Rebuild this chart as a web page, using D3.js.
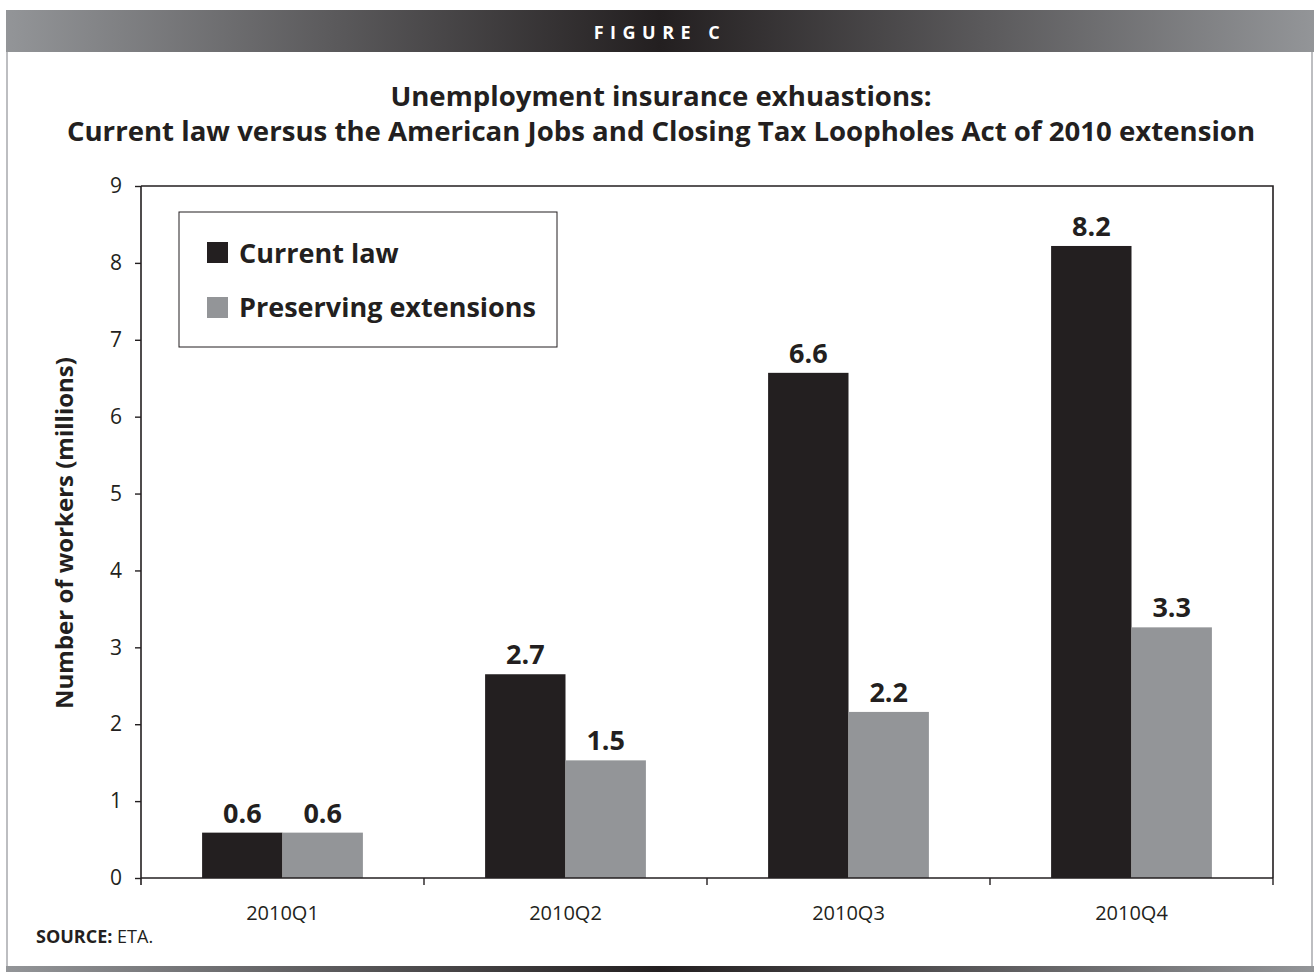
<!DOCTYPE html>
<html>
<head>
<meta charset="utf-8">
<script src="https://cdn.jsdelivr.net/npm/d3@7"></script>
<style>
  body { margin: 0; background: #fff; }
  svg text { font-family: "Open Sans", "Noto Sans", sans-serif; fill: #231f20; }
</style>
</head>
<body>
<svg id="chart" width="1314" height="972"></svg>
<script>
// data
var quarters = ["2010Q1", "2010Q2", "2010Q3", "2010Q4"];
var seriesNames = ["Current law", "Preserving extensions"];
var currentLaw = [0.59, 2.65, 6.57, 8.22];
var preserving = [0.59, 1.53, 2.16, 3.26];
var currentLabels = ["0.6", "2.7", "6.6", "8.2"];
var preservingLabels = ["0.6", "1.5", "2.2", "3.3"];
var yTicks = [0, 1, 2, 3, 4, 5, 6, 7, 8, 9];

var colors = { "Current law": "#231f20", "Preserving extensions": "#939598" };
var ink = "#231f20";

var svg = d3.select("#chart");

// header band with gradient
var defs = svg.append("defs");
var grad = defs.append("linearGradient").attr("id", "hdr").attr("x1", "0%").attr("x2", "100%");
grad.append("stop").attr("offset", "0%").attr("stop-color", "#939598");
grad.append("stop").attr("offset", "50%").attr("stop-color", "#231f20");
grad.append("stop").attr("offset", "100%").attr("stop-color", "#939598");

svg.append("rect").attr("x", 6).attr("y", 10).attr("width", 1308).attr("height", 42).attr("fill", "url(#hdr)");
svg.append("text").attr("x", 660).attr("y", 39).attr("text-anchor", "middle")
    .style("fill", "#fff").style("font-weight", "bold").style("font-size", "18px")
    .style("letter-spacing", "6.5px").text("FIGURE C");

// frame sides + bottom band
svg.append("line").attr("x1", 7).attr("x2", 7).attr("y1", 52).attr("y2", 966).attr("stroke", "#a7a9ac").attr("stroke-width", 1.5);
svg.append("line").attr("x1", 1312).attr("x2", 1312).attr("y1", 52).attr("y2", 966).attr("stroke", "#a7a9ac").attr("stroke-width", 1.5);
svg.append("rect").attr("x", 6).attr("y", 966).attr("width", 1308).attr("height", 6).attr("fill", "url(#hdr)");

// title
var title = svg.append("text").attr("text-anchor", "middle").style("font-weight", "bold").style("font-size", "27.6px");
title.append("tspan").attr("x", 661).attr("y", 106).text("Unemployment insurance exhuastions:");
title.append("tspan").attr("x", 661).attr("y", 141).text("Current law versus the American Jobs and Closing Tax Loopholes Act of 2010 extension");

// scales
var plotL = 141, plotR = 1273, plotT = 186, plotB = 878;
var x = d3.scaleBand().domain(quarters).range([plotL, plotR]).padding(0);
var xs = d3.scaleBand().domain(seriesNames).range([0, x.bandwidth()]).paddingInner(0).paddingOuter(0.76);
var y = d3.scaleLinear().domain([0, 9]).range([plotB, plotT]);

// bars
var rows = quarters.map(function (q, i) {
    return [
        { q: q, s: seriesNames[0], v: currentLaw[i], label: currentLabels[i] },
        { q: q, s: seriesNames[1], v: preserving[i], label: preservingLabels[i] }
    ];
});
var groups = svg.append("g").selectAll("g").data(rows).enter().append("g")
    .attr("transform", function (d) { return "translate(" + x(d[0].q) + ",0)"; });
groups.selectAll("rect").data(function (d) { return d; }).enter().append("rect")
    .attr("x", function (d) { return xs(d.s); })
    .attr("y", function (d) { return y(d.v); })
    .attr("width", xs.bandwidth())
    .attr("height", function (d) { return y(0) - y(d.v); })
    .attr("fill", function (d) { return colors[d.s]; });
groups.selectAll("text").data(function (d) { return d; }).enter().append("text")
    .attr("x", function (d) { return xs(d.s) + xs.bandwidth() / 2; })
    .attr("y", function (d) { return y(d.v) - 10; })
    .attr("text-anchor", "middle")
    .style("font-weight", "bold").style("font-size", "27px")
    .text(function (d) { return d.label; });

// plot frame top + right
svg.append("path").attr("d", "M" + plotL + "," + plotT + "H" + plotR + "V" + plotB)
    .attr("fill", "none").attr("stroke", ink).attr("stroke-width", 1.6);

// y axis
var yAxis = svg.append("g").attr("transform", "translate(" + plotL + ",0)")
    .call(d3.axisLeft(y).tickValues(yTicks).tickSize(6).tickPadding(13).tickFormat(d3.format("d")));
yAxis.select(".domain").attr("stroke", ink).attr("stroke-width", 1.6).attr("d", "M0," + plotT + "V" + (plotB + 7));
yAxis.selectAll(".tick line").attr("stroke", ink).attr("stroke-width", 1.4);
yAxis.selectAll("text").style("font-size", "21px").style("font-family", "\"Open Sans\", sans-serif").attr("fill", ink);

// x axis: ticks at category boundaries
svg.append("line").attr("x1", plotL).attr("x2", plotR).attr("y1", plotB).attr("y2", plotB).attr("stroke", ink).attr("stroke-width", 1.6);
var bounds = quarters.map(function (q) { return x(q) + x.bandwidth(); });
svg.append("g").selectAll("line").data(bounds).enter().append("line")
    .attr("x1", function (d) { return d; }).attr("x2", function (d) { return d; })
    .attr("y1", plotB).attr("y2", plotB + 7).attr("stroke", ink).attr("stroke-width", 1.4);
svg.append("g").selectAll("text").data(quarters).enter().append("text")
    .attr("x", function (d) { return x(d) + x.bandwidth() / 2; })
    .attr("y", 913).attr("dy", "0.35em").attr("text-anchor", "middle").style("font-size", "20px")
    .text(function (d) { return d; });

// y title
svg.append("text").attr("transform", "translate(73,533) rotate(-90)")
    .attr("text-anchor", "middle").style("font-weight", "bold").style("font-size", "24px")
    .text("Number of workers (millions)");

// legend
var lg = svg.append("g").attr("transform", "translate(179,212)");
lg.append("rect").attr("width", 378).attr("height", 135).attr("fill", "#fff").attr("stroke", ink).attr("stroke-width", 1);
seriesNames.forEach(function (s, i) {
    lg.append("rect").attr("x", 28).attr("y", 30 + i * 55).attr("width", 21).attr("height", 21).attr("fill", colors[s]);
    lg.append("text").attr("x", 60).attr("y", 51 + i * 54).style("font-weight", "bold").style("font-size", "27px").text(s);
});

// source
var src = svg.append("text").attr("x", 36).attr("y", 943).style("font-size", "18px");
src.append("tspan").style("font-weight", "bold").text("SOURCE:");
src.append("tspan").text(" ETA.");
</script>
</body>
</html>
